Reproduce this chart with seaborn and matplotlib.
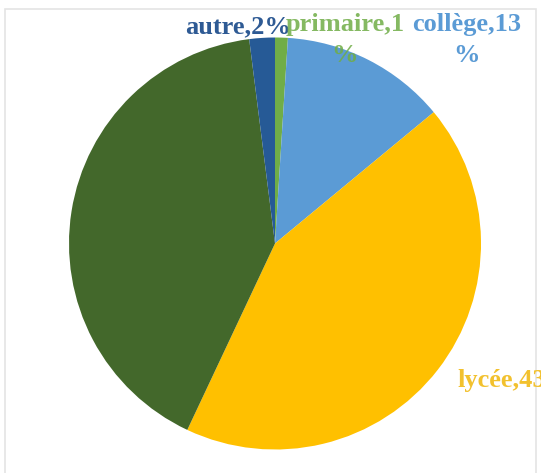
import matplotlib
matplotlib.use("Agg")
import matplotlib.pyplot as plt
from matplotlib.patches import Rectangle
import seaborn as sns

# Share of respondents by level of education
categories = ["primaire", "collège", "lycée", "université", "autre"]
values = [1, 13, 43, 41, 2]

colors = sns.color_palette(["#70AD47", "#5B9BD5", "#FFC000", "#43682B", "#265A96"])
label_colors = {"primaire": "#70AD47", "collège": "#5B9BD5",
                "lycée": "#F2C12E", "autre": "#2E5A94"}

sns.set_theme(style="white")
plt.rcParams["font.family"] = ["Liberation Serif", "DejaVu Serif"]

W, H = 541, 473
fig = plt.figure(figsize=(W / 100, H / 100), dpi=100)
ax = fig.add_axes([0, 0, 1, 1])

# chart-area frame
ax.add_patch(Rectangle((5, -5), 531, H - 9 + 5, fill=False,
                       edgecolor="#E4E4E4", linewidth=1.2))

cx, cy, r = 275, H - 243.5, 206
ax.pie(values, colors=colors, startangle=90, counterclock=False,
       center=(cx, cy), radius=r, frame=True,
       wedgeprops=dict(linewidth=0))
ax.set_xlim(0, W)
ax.set_ylim(0, H)
ax.set_aspect("equal")
ax.axis("off")

lookup = dict(zip(categories, values))
txt = dict(fontsize=19, fontweight="bold")

ax.text(185, H - 33, f"autre,{lookup['autre']}%", ha="left", va="baseline",
        color=label_colors["autre"], **txt)
ax.text(345, H - 13, f"primaire,{lookup['primaire']}\n%", ha="center", va="top",
        multialignment="center", linespacing=1.45,
        color=label_colors["primaire"], alpha=0.85, zorder=5, **txt)
ax.text(467, H - 13, f"collège,{lookup['collège']}\n%", ha="center", va="top",
        multialignment="center", linespacing=1.45,
        color=label_colors["collège"], **txt)
ax.text(457, H - 387, f"lycée,{lookup['lycée']}%", ha="left", va="baseline",
        color=label_colors["lycée"], **txt)

fig.savefig("out.png", dpi=100)
